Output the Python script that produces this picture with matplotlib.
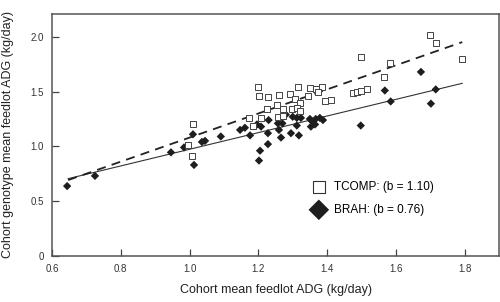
import matplotlib
matplotlib.use("Agg")
import matplotlib.pyplot as plt
import numpy as np

plt.rcParams['font.family'] = ['Liberation Sans', 'DejaVu Sans']

# TCOMP (open squares)
tcomp_x = [0.995, 1.007, 1.01, 1.199, 1.202, 1.228, 1.26, 1.225, 1.254, 1.173, 1.208,
           1.257, 1.184, 1.70, 1.716, 1.792, 1.498, 1.583, 1.565, 1.475, 1.487, 1.50,
           1.516, 1.394, 1.411, 1.315, 1.35, 1.367, 1.385, 1.373, 1.292, 1.306, 1.344,
           1.321, 1.271, 1.298, 1.312, 1.321, 1.271]
tcomp_y = [1.01, 0.91, 1.20, 1.54, 1.46, 1.45, 1.47, 1.34, 1.38, 1.26, 1.26,
           1.27, 1.19, 2.02, 1.94, 1.80, 1.82, 1.76, 1.63, 1.49, 1.50, 1.51,
           1.52, 1.41, 1.42, 1.54, 1.53, 1.52, 1.54, 1.50, 1.48, 1.43, 1.46,
           1.40, 1.34, 1.34, 1.35, 1.32, 1.28]

# BRAH (filled diamonds)
brah_x = [0.644, 0.725, 0.946, 0.984, 1.01, 1.013, 1.036, 1.045, 1.091, 1.147, 1.161,
          1.176, 1.196, 1.208, 1.23, 1.228, 1.26, 1.205, 1.202, 1.228, 1.266, 1.27,
          1.28, 1.295, 1.30, 1.312, 1.318, 1.312, 1.324, 1.35, 1.356, 1.367, 1.379,
          1.388, 1.353, 1.365, 1.673, 1.568, 1.585, 1.716, 1.702, 1.498, 1.257]
brah_y = [0.637, 0.73, 0.945, 0.99, 1.11, 0.83, 1.04, 1.05, 1.09, 1.15, 1.17,
          1.10, 1.20, 1.18, 1.24, 1.12, 1.15, 0.96, 0.87, 1.02, 1.08, 1.21,
          1.29, 1.12, 1.27, 1.26, 1.10, 1.19, 1.26, 1.25, 1.23, 1.25, 1.26,
          1.24, 1.18, 1.20, 1.68, 1.51, 1.41, 1.52, 1.39, 1.19, 1.21]

# regression fits (intercept, slope)
tcomp_fit = (-0.02, 1.10)
brah_fit = (0.213, 0.76)
fit_range = [0.647, 1.793]

x_ticks = [0.6, 0.8, 1.0, 1.2, 1.4, 1.6, 1.8]
x_tick_labels = ['0.6', '0.8', '1.0', '1.2', '1.4', '1.6', '1.8']
y_ticks = [0, 0.5, 1.0, 1.5, 2.0]
y_tick_labels = ['0', '0.5', '1.0', '1.5', '2.0']

fig = plt.figure(figsize=(5.0, 3.02), dpi=100)
ax = fig.add_axes([0.104, 0.153, 0.894, 0.801])

fx = np.array(fit_range)
ax.plot(fx, brah_fit[0] + brah_fit[1] * fx, color='#333333', lw=0.8, zorder=2)
ax.plot(fx, tcomp_fit[0] + tcomp_fit[1] * fx, color='#222222', lw=1.3,
        dashes=(5, 3.5), zorder=2)

ax.scatter(brah_x, brah_y, marker='D', s=18, color='#1e1e1e', edgecolors='none', zorder=3)
ax.scatter(tcomp_x, tcomp_y, marker='s', s=20, facecolors='white',
           edgecolors='#444444', linewidths=0.7, zorder=4)

ax.set_xlim(0.6, 1.9)
ax.set_ylim(0, 2.21)
ax.set_xticks(x_ticks)
ax.set_xticklabels(x_tick_labels)
ax.set_yticks(y_ticks)
ax.set_yticklabels(y_tick_labels)
ax.tick_params(direction='in', length=5, width=0.9, color='#444444',
               labelsize=7, labelcolor='#333333', pad=6)
for sp in ax.spines.values():
    sp.set_color('#555555')
    sp.set_linewidth(1.1)

ax.set_xlabel('Cohort mean feedlot ADG (kg/day)', fontsize=9, color='#222222', labelpad=7)
ax.set_ylabel('Cohort genotype mean feedlot ADG (kg/day)', fontsize=9, color='#222222', labelpad=12)

h1 = ax.scatter([], [], marker='s', s=80, facecolors='white', edgecolors='#333333', linewidths=0.8)
h2 = ax.scatter([], [], marker='D', s=110, color='#1e1e1e', edgecolors='none')
ax.legend([h1, h2], ['TCOMP: (b = 1.10)', 'BRAH: (b = 0.76)'], frameon=False,
          loc='upper left', bbox_to_anchor=(0.56, 0.33), fontsize=8.5,
          handletextpad=0.3, labelspacing=0.95, borderaxespad=0)

fig.savefig('out.png', dpi=100)
